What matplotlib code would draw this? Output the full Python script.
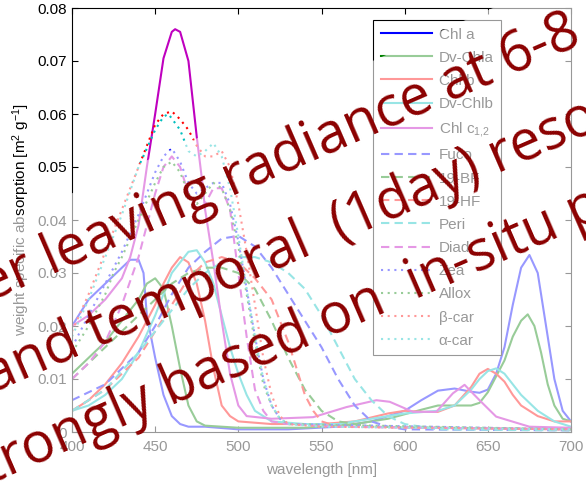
import matplotlib
matplotlib.use("Agg")
import matplotlib.pyplot as plt
from matplotlib.patches import Polygon

plt.rcParams['font.family'] = ['Liberation Sans', 'DejaVu Sans']
plt.rcParams['mathtext.fontset'] = 'custom'
plt.rcParams['mathtext.rm'] = 'Liberation Sans'
plt.rcParams['mathtext.it'] = 'Liberation Sans:italic'

# pigment specific absorption spectra
chla_wl = [400, 410, 420, 430, 435, 440, 443, 445, 450, 455, 460, 465, 470, 480, 500, 530, 560, 580, 590,
           600, 610, 620, 630, 640, 645, 650, 655, 660, 665, 670, 675, 680, 685, 690, 695, 700]
chla_val = [0.020, 0.025, 0.028, 0.031, 0.0325, 0.0325, 0.030, 0.022, 0.014, 0.007, 0.003, 0.0015, 0.001,
            0.001, 0.0005, 0.0005, 0.001, 0.002, 0.003, 0.004, 0.006, 0.0078, 0.0082, 0.0076, 0.0074, 0.008,
            0.011, 0.016, 0.024, 0.031, 0.0334, 0.030, 0.020, 0.010, 0.004, 0.002]

dvchla_wl = [400, 410, 420, 430, 440, 445, 450, 455, 460, 465, 470, 475, 480, 500, 540, 570, 590, 610, 620,
             630, 640, 645, 650, 655, 660, 665, 670, 674, 678, 682, 686, 690, 695, 700]
dvchla_val = [0.011, 0.014, 0.017, 0.021, 0.025, 0.028, 0.029, 0.027, 0.020, 0.012, 0.005, 0.002, 0.0012,
              0.0008, 0.0008, 0.0015, 0.0025, 0.0042, 0.005, 0.005, 0.005, 0.0055, 0.0075, 0.0105, 0.0135,
              0.018, 0.021, 0.0222, 0.020, 0.015, 0.009, 0.005, 0.0025, 0.002]

chlb_wl = [400, 410, 420, 430, 440, 450, 455, 460, 465, 470, 475, 480, 485, 490, 495, 500, 520, 550, 570,
           590, 600, 610, 620, 630, 640, 645, 650, 655, 660, 665, 670, 680, 690, 700]
chlb_val = [0.004, 0.006, 0.009, 0.013, 0.018, 0.024, 0.028, 0.031, 0.033, 0.032, 0.028, 0.021, 0.012,
            0.005, 0.003, 0.002, 0.0015, 0.0015, 0.002, 0.0035, 0.004, 0.0038, 0.0038, 0.005, 0.0085, 0.011,
            0.0119, 0.011, 0.0095, 0.007, 0.005, 0.003, 0.002, 0.002]

dvchlb_wl = [400, 410, 420, 430, 440, 450, 455, 460, 465, 470, 475, 480, 485, 490, 495, 500, 505, 510, 520,
             540, 560, 580, 600, 620, 630, 640, 645, 650, 655, 660, 670, 680, 690, 700]
dvchlb_val = [0.004, 0.005, 0.007, 0.010, 0.015, 0.022, 0.026, 0.030, 0.032, 0.034, 0.0343, 0.032, 0.028,
              0.022, 0.016, 0.011, 0.007, 0.004, 0.002, 0.0015, 0.0015, 0.0025, 0.0035, 0.004, 0.005, 0.008,
              0.010, 0.0115, 0.012, 0.011, 0.007, 0.004, 0.002, 0.001]

chlc_wl = [400, 410, 420, 430, 435, 440, 445, 450, 455, 460, 462, 465, 470, 475, 478, 480, 485, 490, 495,
           500, 505, 520, 545, 565, 583, 591, 605, 619, 629, 636, 645, 655, 675, 700]
chlc_val = [0.020, 0.022, 0.025, 0.029, 0.033, 0.039, 0.050, 0.060, 0.0705, 0.0755, 0.076, 0.0755, 0.070,
            0.0557, 0.048, 0.042, 0.032, 0.021, 0.011, 0.005, 0.003, 0.0025, 0.0028, 0.0047, 0.006, 0.0057,
            0.0038, 0.0038, 0.0073, 0.0089, 0.006, 0.0029, 0.001, 0.0008]

fuco_wl = [400, 420, 440, 450, 460, 470, 480, 490, 500, 510, 520, 530, 540, 550, 560, 570, 580, 590, 600, 700]
fuco_val = [0.006, 0.009, 0.015, 0.020, 0.026, 0.031, 0.034, 0.0365, 0.037, 0.035, 0.031, 0.026, 0.021,
            0.016, 0.010, 0.005, 0.002, 0.001, 0.0005, 0.0003]

bf19_wl = [400, 410, 420, 430, 440, 450, 460, 470, 480, 490, 500, 510, 520, 530, 540, 550, 560, 580, 700]
bf19_val = [0.010, 0.013, 0.016, 0.019, 0.022, 0.025, 0.028, 0.030, 0.031, 0.031, 0.030, 0.027, 0.021,
            0.014, 0.008, 0.004, 0.002, 0.001, 0.0005]

hf19_wl = [400, 420, 440, 450, 460, 470, 480, 490, 500, 510, 520, 525, 530, 535, 540, 545, 550, 560, 700]
hf19_val = [0.004, 0.008, 0.014, 0.019, 0.024, 0.029, 0.032, 0.033, 0.032, 0.029, 0.025, 0.021, 0.017,
            0.012, 0.007, 0.004, 0.002, 0.001, 0.0005]

peri_wl = [400, 420, 440, 450, 460, 470, 480, 490, 500, 510, 520, 530, 540, 550, 560, 570, 580, 590, 600,
           620, 700]
peri_val = [0.004, 0.008, 0.015, 0.019, 0.023, 0.027, 0.030, 0.032, 0.033, 0.033, 0.032, 0.030, 0.027,
            0.022, 0.016, 0.010, 0.006, 0.003, 0.0015, 0.0005, 0.0003]

diad_wl = [400, 410, 420, 430, 440, 450, 455, 460, 465, 470, 475, 480, 485, 490, 495, 500, 505, 510, 515,
           520, 530, 560, 700]
diad_val = [0.010, 0.013, 0.017, 0.024, 0.033, 0.045, 0.050, 0.052, 0.050, 0.045, 0.042, 0.043, 0.046,
            0.046, 0.042, 0.030, 0.018, 0.008, 0.004, 0.002, 0.0015, 0.001, 0.0005]

zea_wl = [400, 410, 420, 425, 430, 440, 450, 455, 460, 465, 470, 475, 480, 485, 490, 495, 500, 505, 510,
          515, 520, 525, 530, 700]
zea_val = [0.016, 0.022, 0.028, 0.031, 0.034, 0.041, 0.049, 0.052, 0.0535, 0.051, 0.047, 0.045, 0.046,
           0.047, 0.047, 0.043, 0.036, 0.027, 0.018, 0.010, 0.005, 0.0025, 0.0015, 0.0005]

allox_wl = [400, 410, 420, 425, 430, 440, 450, 455, 460, 465, 470, 475, 480, 485, 490, 495, 500, 505, 510,
            515, 520, 525, 530, 700]
allox_val = [0.015, 0.020, 0.026, 0.030, 0.033, 0.040, 0.047, 0.050, 0.051, 0.049, 0.045, 0.043, 0.045,
             0.047, 0.046, 0.042, 0.035, 0.026, 0.017, 0.009, 0.005, 0.0025, 0.0015, 0.0005]

bcar_wl = [400, 410, 420, 425, 430, 440, 450, 455, 460, 465, 470, 475, 480, 485, 490, 495, 500, 505, 510,
           515, 520, 525, 530, 550, 700]
bcar_val = [0.019, 0.026, 0.034, 0.038, 0.042, 0.050, 0.058, 0.060, 0.0605, 0.059, 0.057, 0.054, 0.052,
            0.052, 0.053, 0.050, 0.043, 0.034, 0.024, 0.014, 0.007, 0.003, 0.0015, 0.001, 0.0005]

acar_wl = [400, 410, 420, 425, 430, 440, 450, 455, 458, 465, 470, 475, 480, 485, 490, 495, 500, 505, 510,
           515, 520, 525, 530, 550, 700]
acar_val = [0.018, 0.025, 0.033, 0.037, 0.041, 0.050, 0.057, 0.0595, 0.060, 0.057, 0.053, 0.052, 0.053,
            0.0545, 0.052, 0.046, 0.037, 0.027, 0.018, 0.010, 0.005, 0.0025, 0.0015, 0.001, 0.0005]

pigments = ['Chl a', 'Dv-Chla', 'Chl b', 'Dv-Chlb', 'Chl c$_{1{,}2}$', 'Fuco', '19-BF', '19-HF', 'Peri',
            'Diad', 'Zea', 'Allox', 'β-car', 'α-car']
spectra = [(chla_wl, chla_val), (dvchla_wl, dvchla_val), (chlb_wl, chlb_val), (dvchlb_wl, dvchlb_val),
           (chlc_wl, chlc_val), (fuco_wl, fuco_val), (bf19_wl, bf19_val), (hf19_wl, hf19_val),
           (peri_wl, peri_val), (diad_wl, diad_val), (zea_wl, zea_val), (allox_wl, allox_val),
           (bcar_wl, bcar_val), (acar_wl, acar_val)]

xticks = [400, 450, 500, 550, 600, 650, 700]
yticks = [0, 0.01, 0.02, 0.03, 0.04, 0.05, 0.06, 0.07, 0.08]
ytick_labels = ['0', '0.01', '0.02', '0.03', '0.04', '0.05', '0.06', '0.07', '0.08']

overlay_lines = ['er leaving radiance at 6-8',
                 'and temporal  (1day) reso',
                 'trongly based on  in-situ p']

# old matlab colour order, solid / dashed / dotted
colors = ['b', (0, 0.5, 0), 'r', (0, 0.75, 0.75), (0.75, 0, 0.75)]
styles = ['-'] * 5 + [(0, (4, 2.5))] * 5 + [(0, (1, 2.2))] * 4

W, H = 586, 483
fig = plt.figure(figsize=(W / 100, H / 100), dpi=100)
ax = fig.add_axes([72 / W, 51 / H, 499 / W, 424 / H])

for i, (name, (wl, val)) in enumerate(zip(pigments, spectra)):
    ax.plot(wl, val, color=colors[i % 5], linestyle=styles[i], linewidth=1.5, label=name)

ax.set_xlim(400, 700)
ax.set_ylim(0, 0.08)
ax.set_xticks(xticks)
ax.set_yticks(yticks)
ax.set_yticklabels(ytick_labels)
ax.tick_params(direction='in', top=True, right=True, length=4, labelsize=11)
ax.tick_params(axis='x', pad=6)
for sp in ax.spines.values():
    sp.set_linewidth(0.8)
ax.set_xlabel('wavelength [nm]', fontsize=11, labelpad=6)
ax.set_ylabel('weight specific absorption [m$^2$ g$^{-1}$]', fontsize=11)

leg = ax.legend(loc='upper left', bbox_to_anchor=(0.603, 0.972), borderaxespad=0, fancybox=False,
                edgecolor='k', framealpha=1, fontsize=11, handlelength=3.4, handletextpad=0.4,
                labelspacing=0.6, borderpad=0.5)
leg.get_frame().set_linewidth(0.8)

# semi transparent white box of the slide overlay, its upper edge is tilted
box = [(0, 258), (W, 516), (W, 0), (0, 0)]
fig.add_artist(Polygon([(x / W, y / H) for x, y in box], closed=True, transform=fig.transFigure,
                       facecolor='white', edgecolor='none', alpha=0.6, zorder=5))

overlay_pos = [(-12, 302), (-8, 393), (-10, 484)]
for s, (x, y) in zip(overlay_lines, overlay_pos):
    fig.text(x / W, 1 - y / H, s, rotation=23.5, rotation_mode='anchor', ha='left', va='baseline',
             fontsize=40, color='#8b0000', family='Open Sans', zorder=10)

fig.savefig('out.png', dpi=100)
